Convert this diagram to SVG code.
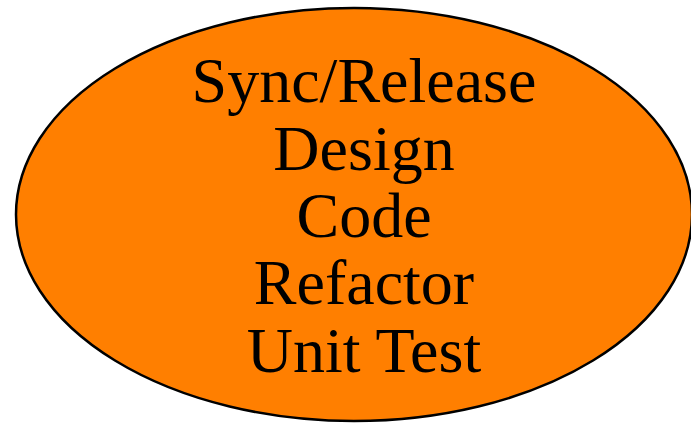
<svg xmlns="http://www.w3.org/2000/svg" width="691" height="424" viewBox="0 0 691 424">
  <style>
    .blob { fill: #ff7f00; stroke: #000; stroke-width: 2.5; }
    .label { font-family: "Liberation Serif", "Times New Roman", serif; font-size: 64px; fill: #000; text-anchor: middle; }
  </style>
  <rect width="691" height="424" fill="#fff"/>
  <g id="activities">
    <ellipse class="blob" cx="354" cy="214.5" rx="338" ry="206.5"/>
    <text class="label" x="364" y="102">Sync/Release</text>
    <text class="label" x="364" y="170">Design</text>
    <text class="label" x="364" y="237">Code</text>
    <text class="label" x="364" y="304">Refactor</text>
    <text class="label" x="364" y="372">Unit Test</text>
  </g>
</svg>
